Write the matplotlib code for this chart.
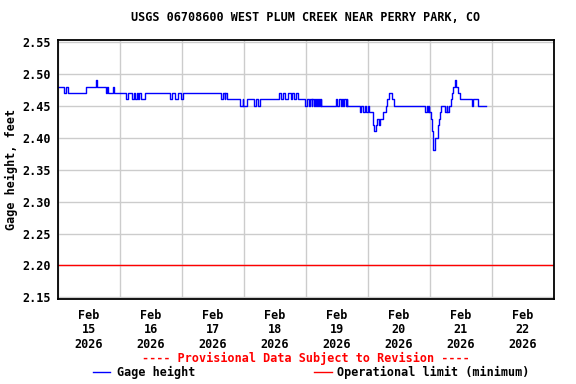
import matplotlib
matplotlib.use('Agg')
import matplotlib.pyplot as plt
import matplotlib.dates as mdates
import pandas as pd
from matplotlib.lines import Line2D

# gage height change points (hours after Feb 15 00:00, feet)
hours = [0, 2.5, 3.25, 3.75, 10.75, 14.75, 15.25, 18.5, 19.0, 19.5, 21.25, 21.75,
         26.25, 27.0, 28.75, 29.25, 29.75, 30.5, 31.0, 31.5, 32.25, 33.5,
         43.5, 44.25, 45.25, 46.5, 47.5, 48.5,
         63.25, 64.0, 64.5, 64.75, 65.25,
         70.5, 71.5, 71.75, 73.0,
         76.0, 76.5, 77.5, 78.0,
         85.5, 86.5, 87.25, 87.75, 89.0, 90.0, 90.5, 91.5, 92.0, 92.75,
         95.75, 96.25, 97.0, 97.5, 98.25, 98.5, 99.25, 99.5, 100.0, 100.25,
         100.75, 101.0, 101.5, 101.75, 102.0,
         107.5, 108.0, 108.75, 109.5, 109.75, 110.5, 110.75, 111.5, 111.75, 112.0,
         116.75, 117.25, 118.25, 119.0, 119.25, 120.0, 120.5, 121.75, 122.0,
         122.25, 123.0, 123.5, 124.25, 124.75, 125.75, 127.0, 127.5, 128.0,
         129.25, 130.0,
         142.0, 142.75, 143.25, 143.5, 143.75, 144.5, 144.75, 145.25, 146.0,
         147.0, 147.25, 147.5, 147.75, 148.25, 149.75, 150.5, 150.75, 151.25,
         152.0, 152.5, 153.0, 153.5, 154.25, 155.0, 155.5, 160.25, 160.75,
         162.75, 165.75]
gage = [2.48, 2.47, 2.48, 2.47, 2.48, 2.49, 2.48, 2.47, 2.48, 2.47, 2.48, 2.47,
        2.46, 2.47, 2.46, 2.47, 2.46, 2.47, 2.46, 2.47, 2.46, 2.47,
        2.46, 2.47, 2.46, 2.47, 2.46, 2.47,
        2.46, 2.47, 2.46, 2.47, 2.46,
        2.45, 2.46, 2.45, 2.46,
        2.45, 2.46, 2.45, 2.46,
        2.47, 2.46, 2.47, 2.46, 2.47, 2.46, 2.47, 2.46, 2.47, 2.46,
        2.45, 2.46, 2.45, 2.46, 2.45, 2.46, 2.45, 2.46, 2.45, 2.46,
        2.45, 2.46, 2.45, 2.46, 2.45,
        2.46, 2.45, 2.46, 2.45, 2.46, 2.45, 2.46, 2.45, 2.46, 2.45,
        2.44, 2.45, 2.44, 2.45, 2.44, 2.45, 2.44, 2.43, 2.42,
        2.41, 2.42, 2.43, 2.42, 2.43, 2.44, 2.45, 2.46, 2.47,
        2.46, 2.45,
        2.44, 2.45, 2.44, 2.45, 2.44, 2.43, 2.41, 2.38, 2.40,
        2.41, 2.42, 2.43, 2.44, 2.45, 2.44, 2.45, 2.44, 2.45,
        2.46, 2.47, 2.48, 2.49, 2.48, 2.47, 2.46, 2.45, 2.46,
        2.45, 2.45]
op_limit = 2.20
yticks = [2.15, 2.20, 2.25, 2.30, 2.35, 2.40, 2.45, 2.50, 2.55]

plt.rcParams['font.family'] = 'DejaVu Sans Mono'
plt.rcParams['font.weight'] = 'bold'
plt.rcParams['font.size'] = 8.5

start = pd.Timestamp('2026-02-15')
t = start + pd.to_timedelta(hours, unit='h')

fig = plt.figure(figsize=(5.76, 3.84), dpi=100)
ax = fig.add_axes([0.1007, 0.2214, 0.8611, 0.6744])

ax.plot(t, gage, color='#0000ff', lw=1.0, drawstyle='steps-post')
ax.axhline(op_limit, color='#ff0000', lw=1.0)

ax.set_xlim(start, start + pd.Timedelta(days=8))
ax.set_ylim(2.1475, 2.553)
ax.set_yticks(yticks)
ax.set_yticklabels(['%.2f' % v for v in yticks])

ax.xaxis.set_major_locator(mdates.DayLocator())
ax.xaxis.set_major_formatter(plt.NullFormatter())
ax.xaxis.set_minor_locator(mdates.HourLocator(byhour=12))
ax.xaxis.set_minor_formatter(mdates.DateFormatter('%b\n%d\n%Y'))
ax.tick_params(axis='x', which='both', length=0, pad=7)
ax.tick_params(axis='y', length=0, pad=5)
for lab in ax.xaxis.get_minorticklabels():
    lab.set_linespacing(1.15)

ax.grid(True, which='major', color='#cccccc', lw=1.0)
ax.set_axisbelow(True)
for s in ax.spines.values():
    s.set_linewidth(1.3)
    s.set_color('black')

ax.set_ylabel('Gage height, feet', labelpad=3, fontweight='bold')
ax.set_title('USGS 06708600 WEST PLUM CREEK NEAR PERRY PARK, CO',
             fontsize=8.5, fontweight='bold', pad=14)

fig.text(0.531, 0.067, '---- Provisional Data Subject to Revision ----',
         color='#ff0000', ha='center', va='center')
fig.add_artist(Line2D([0.162, 0.191], [0.031, 0.031], color='#0000ff', lw=1.0))
fig.text(0.203, 0.031, 'Gage height', va='center')
fig.add_artist(Line2D([0.545, 0.576], [0.031, 0.031], color='#ff0000', lw=1.0))
fig.text(0.585, 0.031, 'Operational limit (minimum)', va='center')

fig.savefig('out.png', dpi=100)
